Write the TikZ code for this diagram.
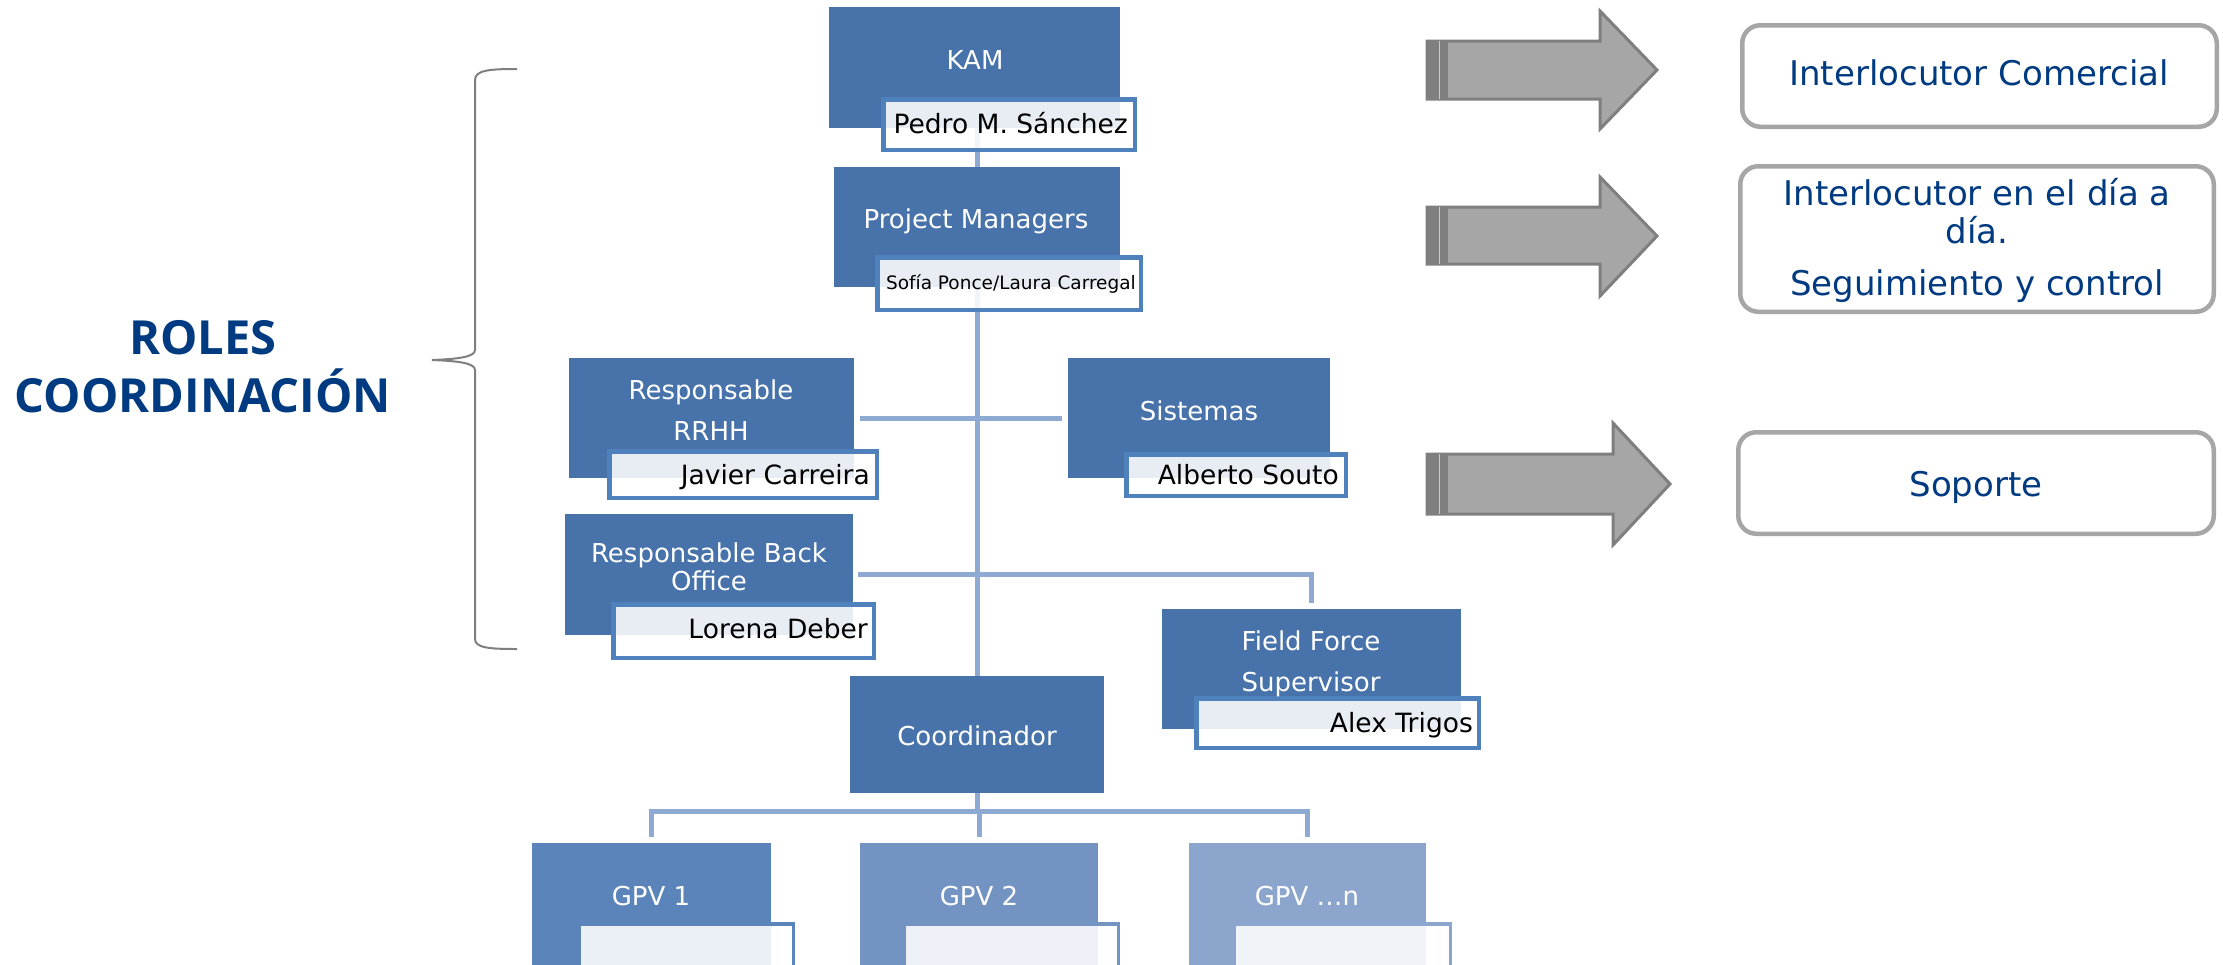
\documentclass[tikz,border=0pt]{standalone}
\usepackage{fontspec}
\setmainfont{DejaVu Sans}
\newfontfamily\rolesfont{Open Sans}
\definecolor{boxblue}{RGB}{71,115,170}
\definecolor{lblblue}{RGB}{79,129,189}
\definecolor{connblue}{RGB}{142,170,211}
\definecolor{gpva}{RGB}{91,132,186}
\definecolor{gpvb}{RGB}{115,147,194}
\definecolor{gpvc}{RGB}{139,165,204}
\definecolor{darkblue}{RGB}{0,58,128}
\definecolor{rgray}{RGB}{166,166,166}
\definecolor{agray}{RGB}{166,166,166}
\definecolor{adark}{RGB}{127,127,127}
\newcommand\mkbox[6]{\node[obox, fill=#6, minimum width={#4-#2}, minimum height={#5-#3}] (#1) at ({(#2+#4)/2},{(#3+#5)/2}) {};}
\newcommand\mklbl[7]{\node[lbl, draw=#6, line width=#7pt, minimum width={#4-#2-#7}, minimum height={#5-#3-#7}] (#1) at ({(#2+#4)/2},{(#3+#5)/2}) {};}
\newcommand\mkrbox[5]{\node[rbox, minimum width={#4-#2-4.5}, minimum height={#5-#3-4.5}] (#1) at ({(#2+#4)/2},{(#3+#5)/2}) {};}
\begin{document}
\begin{tikzpicture}[x=1pt,y=-1pt,
  obox/.style={rectangle, inner sep=0pt, outer sep=0pt, draw=none},
  lbl/.style={rectangle, inner sep=0pt, outer sep=0pt, fill=white, fill opacity=0.88},
  rbox/.style={rectangle, inner sep=0pt, outer sep=0pt, rounded corners=18pt, draw=rgray, fill=white, line width=4.5pt},
  boxtxt/.style={text=white, font=\fontsize{26}{31}\selectfont, inner sep=0pt, anchor=base},
  lbltxt/.style={text=black, font=\fontsize{26.5}{31}\selectfont, inner sep=0pt, anchor=base east},
  smalltxt/.style={text=black, font=\fontsize{18.5}{22}\selectfont, inner sep=0pt, anchor=base east},
  rtxt/.style={text=darkblue, font=\fontsize{34}{40}\selectfont, inner sep=0pt, anchor=base},
  roles/.style={text=darkblue, font=\rolesfont\bfseries\fontsize{47}{58}\selectfont, inner sep=0pt, anchor=base},
  conn/.style={draw=connblue, line width=5pt},
  bigarrow/.style={fill=agray, draw=adark, line width=3pt, line join=miter},
  bracestyle/.style={draw=adark, line width=2pt}
]
\useasboundingbox (0,0) rectangle (2223,964);
\clip (0,0) rectangle (2223,964);

% ---------- boxes ----------
\mkbox{kam}{829}{7}{1120}{128}{boxblue}
\mkbox{pm}{834}{167}{1120}{287}{boxblue}
\mkbox{rrhh}{569}{358}{854}{478}{boxblue}
\mkbox{sis}{1068}{358}{1330}{478}{boxblue}
\mkbox{bo}{565}{514}{853}{635}{boxblue}
\mkbox{ff}{1162}{609}{1461}{729}{boxblue}
\mkbox{coord}{850}{676}{1104}{793}{boxblue}
\mkbox{ga}{532}{843}{771}{1000}{gpva}
\mkbox{gb}{860}{843}{1098}{1000}{gpvb}
\mkbox{gc}{1189}{843}{1426}{1000}{gpvc}

% ---------- connectors ----------
\draw[conn] (pm.north) -- (pm.north |- kam.south);
\draw[conn] (pm.south) -- (pm.south |- coord.north);
\draw[conn, shorten <=6pt, shorten >=6pt] (rrhh.east) -- (sis.west);
\draw[conn, shorten <=5pt, shorten >=6pt] (bo.east) -| (ff.north);
\coordinate (bus) at ([yshift=-18pt]coord.south);
\draw[conn] (coord.south) -- (bus);
\draw[conn, shorten >=6pt] (bus) -| (ga.north);
\draw[conn, shorten >=6pt] (bus) -| (gb.north);
\draw[conn, shorten >=6pt] (bus) -| (gc.north);

% ---------- labels ----------
\mklbl{kamL}{881}{97}{1137}{152}{lblblue}{4.5}
\mklbl{pmL}{875}{255}{1143}{312}{lblblue}{4.5}
\mklbl{rrhhL}{607}{449}{879}{500}{lblblue}{4.5}
\mklbl{sisL}{1124}{452}{1348}{498}{lblblue}{4.5}
\mklbl{boL}{611}{602}{876}{660}{lblblue}{4.5}
\mklbl{ffL}{1194}{696}{1481}{750}{lblblue}{4.5}
\mklbl{gaL}{577}{922}{795}{1000}{gpva}{3.5}
\mklbl{gbL}{902}{922}{1120}{1000}{gpvb}{3.5}
\mklbl{gcL}{1232}{922}{1452}{1000}{gpvc}{3.5}

% ---------- texts in boxes ----------
\node[boxtxt] (kamT) at (975,69) {KAM};
\node[boxtxt] (pmT) at (976,228) {Project Managers};
\node[boxtxt] (rrhhT1) at (711,399) {Responsable};
\node[boxtxt] (rrhhT2) at (711,440) {RRHH};
\node[boxtxt] (sisT) at (1199,420) {Sistemas};
\node[boxtxt] (boT1) at (709,562) {Responsable Back};
\node[boxtxt] (boT2) at (709,590) {Office};
\node[boxtxt] (ffT1) at (1311,650) {Field Force};
\node[boxtxt] (ffT2) at (1311,691) {Supervisor};
\node[boxtxt] (coordT) at (977,745) {Coordinador};
\node[boxtxt] (gaT) at (651,905) {GPV 1};
\node[boxtxt] (gbT) at (979,905) {GPV 2};
\node[boxtxt] (gcT) at (1307,905) {GPV …n};

% ---------- texts in labels ----------
\node[lbltxt] (kamN) at (1128,133) {Pedro M. Sánchez};
\node[smalltxt] (pmN) at (1136,289) {Sofía Ponce/Laura Carregal};
\node[lbltxt] (rrhhN) at (870,484) {Javier Carreira};
\node[lbltxt] (sisN) at (1339,484) {Alberto Souto};
\node[lbltxt] (boN) at (868,638) {Lorena Deber};
\node[lbltxt] (ffN) at (1473,732) {Alex Trigos};

% ---------- brace and title ----------
\draw[bracestyle] (517,69) .. controls (490,69) and (475,70) .. (475,80)
  -- (475,350) .. controls (475,357) and (458,359) .. (432,360)
  .. controls (458,361) and (475,363) .. (475,370)
  -- (475,639) .. controls (475,648) and (490,649) .. (517,649);
\node[roles] (roles1) at (203,354) {ROLES};
\node[roles] (roles2) at (203,412) {COORDINACIÓN};

% ---------- arrows ----------
\draw[bigarrow] (1427,41) -- (1600,41) -- (1600,11) -- (1657,70) -- (1600,129) -- (1600,99) -- (1427,99) -- cycle;
\draw[bigarrow] (1427,207) -- (1600,207) -- (1600,177) -- (1657,236) -- (1600,296) -- (1600,264) -- (1427,264) -- cycle;
\draw[bigarrow] (1427,454) -- (1613,454) -- (1613,423) -- (1670,484) -- (1613,545) -- (1613,514) -- (1427,514) -- cycle;
\foreach \ya/\yb in {41/99, 207/264, 454/514}{
  \fill[adark] (1426,\ya) rectangle (1448,\yb);
  \draw[agray!60!white, line width=1.5pt] (1439.5,\ya) -- (1439.5,\yb);
}

% ---------- right boxes ----------
\mkrbox{r1}{1740}{23}{2219}{129}
\mkrbox{r2}{1738}{164}{2216}{314}
\mkrbox{r3}{1736}{430}{2216}{536}
\node[rtxt] (r1T) at (1979,85) {Interlocutor Comercial};
\node[rtxt] (r2T1) at (1977,205) {Interlocutor en el día a};
\node[rtxt] (r2T2) at (1977,243) {día.};
\node[rtxt] (r2T3) at (1977,295) {Seguimiento y control};
\node[rtxt] (r3T) at (1976,496) {Soporte};
\end{tikzpicture}
\end{document}
